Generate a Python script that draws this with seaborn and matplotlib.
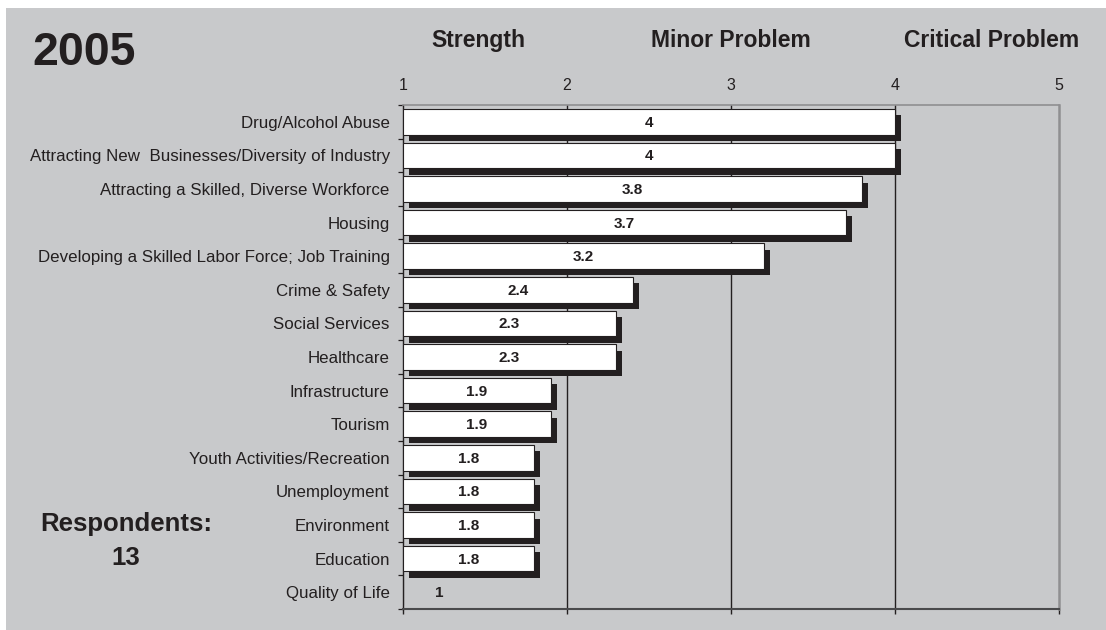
import numpy as np
import matplotlib
matplotlib.use("Agg")
import matplotlib.pyplot as plt
import matplotlib.patheffects as pe
from matplotlib.patches import Rectangle
import seaborn as sns

categories = [
    "Drug/Alcohol Abuse",
    "Attracting New  Businesses/Diversity of Industry",
    "Attracting a Skilled, Diverse Workforce",
    "Housing",
    "Developing a Skilled Labor Force; Job Training",
    "Crime & Safety",
    "Social Services",
    "Healthcare",
    "Infrastructure",
    "Tourism",
    "Youth Activities/Recreation",
    "Unemployment",
    "Environment",
    "Education",
    "Quality of Life",
]
values = [4.0, 4.0, 3.8, 3.7, 3.2, 2.4, 2.3, 2.3, 1.9, 1.9, 1.8, 1.8, 1.8, 1.8, 1.0]
value_labels = ["4", "4", "3.8", "3.7", "3.2", "2.4", "2.3", "2.3", "1.9", "1.9",
                "1.8", "1.8", "1.8", "1.8", "1"]
x_ticks = [1, 2, 3, 4, 5]
scale_headers = ["Strength", "Minor Problem", "Critical Problem"]
title_text = "2005"
respondents_text = "Respondents:"
respondents_n = "13"

BG = "#c8c9cb"
INK = "#231f20"

sns.set_theme(style="white")
plt.rcParams["font.family"] = ["Liberation Sans", "DejaVu Sans"]

fig = plt.figure(figsize=(11.06, 6.30), dpi=100)
fig.patch.set_facecolor("white")
fig.patches.append(Rectangle((6 / 1106, 0), 1, 1 - 8 / 630, transform=fig.transFigure,
                             facecolor=BG, edgecolor="none", zorder=-10))

ax = fig.add_axes([403 / 1106, 1 - 609 / 630, (1059 - 403) / 1106, (609 - 105) / 630])
ax.set_facecolor(BG)

sns.barplot(x=values, y=categories, orient="h", color="white", saturation=1,
            edgecolor=INK, linewidth=0.8, width=0.76, ax=ax, zorder=3)

base = x_ticks[0]
for p in ax.patches:
    w = p.get_width()
    p.set_x(base)
    p.set_width(w - base)
    p.set_facecolor("white")
    p.set_path_effects([
        pe.SimplePatchShadow(offset=(4.3, -4.6), shadow_rgbFace=INK, alpha=1.0),
        pe.Normal(),
    ])

ax.set_xlim(x_ticks[0], x_ticks[-1])
ax.set_xticks(x_ticks)
ax.set_xticklabels([str(t) for t in x_ticks])
ax.set_xlabel("")
ax.set_ylabel("")

# grid lines
for t in x_ticks[1:-1]:
    ax.axvline(t, color=INK, linewidth=1.0, zorder=1)

# spines
ax.spines["left"].set_color(INK)
ax.spines["left"].set_linewidth(1.0)
ax.spines["bottom"].set_color("#4a4a4c")
ax.spines["bottom"].set_linewidth(1.5)
ax.spines["top"].set_color("#8f8f91")
ax.spines["top"].set_linewidth(1.2)
ax.spines["right"].set_color("#8f8f91")
ax.spines["right"].set_linewidth(1.8)
for s in ax.spines.values():
    s.set_visible(True)

ax.tick_params(axis="x", which="major", bottom=True, top=False, labelbottom=False,
               labeltop=True, direction="out", length=3.5, width=1.0, color=INK,
               pad=5, labelsize=11.5, labelcolor=INK)
ax.set_yticks(range(len(categories)))
ax.set_yticklabels(categories)
ax.set_yticks(np.arange(-0.5, len(categories), 1.0), minor=True)
ax.tick_params(axis="y", which="major", left=False, length=0, pad=9.5,
               labelsize=12.2, labelcolor=INK)
ax.tick_params(axis="y", which="minor", left=True, direction="out", length=3.5,
               width=0.9, color=INK)

# value labels
for i, (v, lab) in enumerate(zip(values, value_labels)):
    cx = max((base + v) / 2, base + 0.22)
    ax.text(cx, i + 0.03, lab, ha="center", va="center", fontsize=11,
            fontweight="bold", color=INK, zorder=5)

# texts
fig.text(32 / 1106, 1 - 65 / 630, title_text, fontsize=33.5, fontweight="bold",
         color=INK, ha="left", va="baseline")
header_x = [478, 731, 992]
for hx, h in zip(header_x, scale_headers):
    fig.text(hx / 1106, 1 - 47 / 630, h, fontsize=16.5, fontweight="bold",
             color=INK, ha="center", va="baseline")
fig.text(126 / 1106, 1 - 531 / 630, respondents_text, fontsize=18.5,
         fontweight="bold", color=INK, ha="center", va="baseline")
fig.text(126 / 1106, 1 - 565 / 630, respondents_n, fontsize=18.5,
         fontweight="bold", color=INK, ha="center", va="baseline")

fig.savefig("out.png", dpi=100, facecolor=fig.get_facecolor())
